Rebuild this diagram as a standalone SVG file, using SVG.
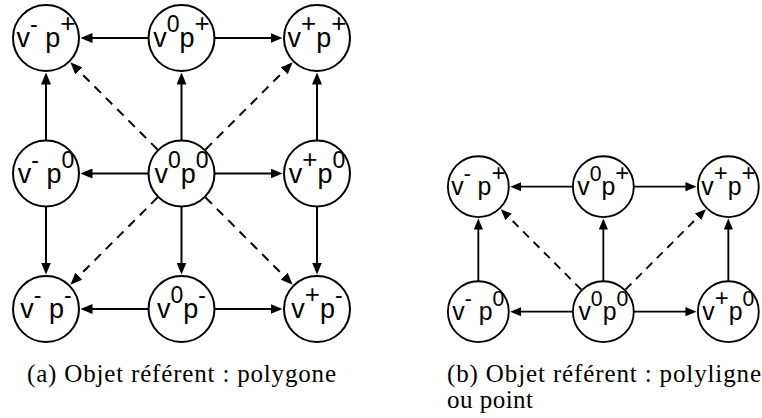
<svg xmlns="http://www.w3.org/2000/svg" width="762" height="418" viewBox="0 0 762 418">
<style>
.node circle{fill:#fff;stroke:#000;stroke-width:2}
.node text{font-family:"Liberation Sans",Arial,sans-serif;font-size:27px;text-anchor:middle;fill:#000}
.sup{font-size:23px}
.pl{font-size:26px}
.edge{fill:none;stroke:#000;stroke-width:2;marker-end:url(#arr)}
.dash{stroke-dasharray:9 7}
.cap{font-family:"Liberation Serif","Times New Roman",serif;font-size:25px;fill:#000}
</style>
<defs>
<marker id="arr" viewBox="0 0 12 10" refX="8" refY="5" markerWidth="12" markerHeight="10" markerUnits="userSpaceOnUse" orient="auto">
<path d="M0,0 L12,5 L0,10 z" fill="#000"/>
</marker>
</defs>
<rect width="762" height="418" fill="#fff"/>

<!-- Diagram (a) -->
<g id="diagram-a">
<g id="edges-a">
<path class="edge" d="M148.5,38 L84.5,38"/>
<path class="edge" d="M214.5,38 L278.5,38"/>
<path class="edge" d="M148.5,173.5 L84.5,173.5"/>
<path class="edge" d="M214.5,173.5 L278.5,173.5"/>
<path class="edge" d="M148.5,309 L84.5,309"/>
<path class="edge" d="M214.5,309 L278.5,309"/>
<path class="edge" d="M46,140.5 L46,76.5"/>
<path class="edge" d="M46,206.5 L46,270.5"/>
<path class="edge" d="M181.5,140.5 L181.5,76.5"/>
<path class="edge" d="M181.5,206.5 L181.5,270.5"/>
<path class="edge" d="M317,140.5 L317,76.5"/>
<path class="edge" d="M317,206.5 L317,270.5"/>
<path class="edge dash" d="M157.46,149.46 L73.2,65.2"/>
<path class="edge dash" d="M205.54,149.46 L289.8,65.2"/>
<path class="edge dash" d="M157.46,197.54 L73.2,281.8"/>
<path class="edge dash" d="M205.54,197.54 L289.8,281.8"/>
</g>
<g id="a-vm-pp" class="node"><circle cx="46" cy="38" r="33"/><text x="46" y="47">v<tspan class="sup" dy="-15">-</tspan><tspan dy="15"> p</tspan><tspan class="sup pl" dy="-15">+</tspan></text></g>
<g id="a-v0-pp" class="node"><circle cx="181.5" cy="38" r="33"/><text x="181.5" y="47">v<tspan class="sup" dy="-15">0</tspan><tspan dy="15">p</tspan><tspan class="sup pl" dy="-15">+</tspan></text></g>
<g id="a-vp-pp" class="node"><circle cx="317" cy="38" r="33"/><text x="317" y="47">v<tspan class="sup pl" dy="-15">+</tspan><tspan dy="15">p</tspan><tspan class="sup pl" dy="-15">+</tspan></text></g>
<g id="a-vm-p0" class="node"><circle cx="46" cy="173.5" r="33"/><text x="46" y="182.5">v<tspan class="sup" dy="-15">-</tspan><tspan dy="15"> p</tspan><tspan class="sup" dy="-15">0</tspan></text></g>
<g id="a-v0-p0" class="node"><circle cx="181.5" cy="173.5" r="33"/><text x="181.5" y="182.5">v<tspan class="sup" dy="-15">0</tspan><tspan dy="15">p</tspan><tspan class="sup" dy="-15">0</tspan></text></g>
<g id="a-vp-p0" class="node"><circle cx="317" cy="173.5" r="33"/><text x="317" y="182.5">v<tspan class="sup pl" dy="-15">+</tspan><tspan dy="15">p</tspan><tspan class="sup" dy="-15">0</tspan></text></g>
<g id="a-vm-pm" class="node"><circle cx="46" cy="309" r="33"/><text x="46" y="318">v<tspan class="sup" dy="-15">-</tspan><tspan dy="15"> p</tspan><tspan class="sup" dy="-15">-</tspan></text></g>
<g id="a-v0-pm" class="node"><circle cx="181.5" cy="309" r="33"/><text x="181.5" y="318">v<tspan class="sup" dy="-15">0</tspan><tspan dy="15">p</tspan><tspan class="sup" dy="-15">-</tspan></text></g>
<g id="a-vp-pm" class="node"><circle cx="317" cy="309" r="33"/><text x="317" y="318">v<tspan class="sup pl" dy="-15">+</tspan><tspan dy="15">p</tspan><tspan class="sup" dy="-15">-</tspan></text></g>
</g>

<!-- Diagram (b) -->
<g id="diagram-b" transform="translate(435.9,151.6) scale(0.9225)">
<g id="edges-b">
<path class="edge" d="M148.5,38 L84.5,38"/>
<path class="edge" d="M214.5,38 L278.5,38"/>
<path class="edge" d="M148.5,173.5 L84.5,173.5"/>
<path class="edge" d="M214.5,173.5 L278.5,173.5"/>
<path class="edge" d="M46,140.5 L46,76.5"/>
<path class="edge" d="M181.5,140.5 L181.5,76.5"/>
<path class="edge" d="M317,140.5 L317,76.5"/>
<path class="edge dash" d="M157.46,149.46 L73.2,65.2"/>
<path class="edge dash" d="M205.54,149.46 L289.8,65.2"/>
</g>
<g id="b-vm-pp" class="node"><circle cx="46" cy="38" r="33"/><text x="46" y="47">v<tspan class="sup" dy="-15">-</tspan><tspan dy="15"> p</tspan><tspan class="sup pl" dy="-15">+</tspan></text></g>
<g id="b-v0-pp" class="node"><circle cx="181.5" cy="38" r="33"/><text x="181.5" y="47">v<tspan class="sup" dy="-15">0</tspan><tspan dy="15">p</tspan><tspan class="sup pl" dy="-15">+</tspan></text></g>
<g id="b-vp-pp" class="node"><circle cx="317" cy="38" r="33"/><text x="317" y="47">v<tspan class="sup pl" dy="-15">+</tspan><tspan dy="15">p</tspan><tspan class="sup pl" dy="-15">+</tspan></text></g>
<g id="b-vm-p0" class="node"><circle cx="46" cy="173.5" r="33"/><text x="46" y="182.5">v<tspan class="sup" dy="-15">-</tspan><tspan dy="15"> p</tspan><tspan class="sup" dy="-15">0</tspan></text></g>
<g id="b-v0-p0" class="node"><circle cx="181.5" cy="173.5" r="33"/><text x="181.5" y="182.5">v<tspan class="sup" dy="-15">0</tspan><tspan dy="15">p</tspan><tspan class="sup" dy="-15">0</tspan></text></g>
<g id="b-vp-p0" class="node"><circle cx="317" cy="173.5" r="33"/><text x="317" y="182.5">v<tspan class="sup pl" dy="-15">+</tspan><tspan dy="15">p</tspan><tspan class="sup" dy="-15">0</tspan></text></g>
</g>

<g id="captions">
<text class="cap" x="27" y="382" textLength="309" lengthAdjust="spacing">(a) Objet référent : polygone</text>
<text class="cap" x="447" y="382" textLength="314" lengthAdjust="spacing">(b) Objet référent : polyligne</text>
<text class="cap" x="447" y="408" textLength="86" lengthAdjust="spacing">ou point</text>
</g>
</svg>
